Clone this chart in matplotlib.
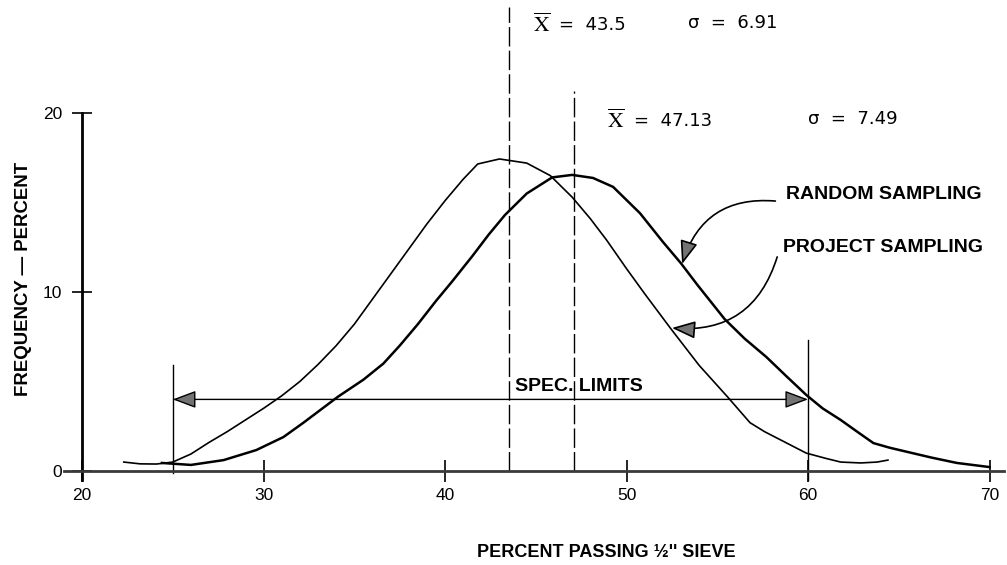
import numpy as np
import matplotlib
matplotlib.use("Agg")
import matplotlib.pyplot as plt
from matplotlib.patches import FancyArrowPatch

plt.rcParams["font.family"] = ["Liberation Sans", "DejaVu Sans"]
plt.rcParams["mathtext.fontset"] = "stix"

# curves (percent passing, frequency %)
proj_x = [22.3, 23.2, 24.1, 25.0, 26.0, 27.0, 28.0, 29.0, 30.0, 31.0, 32.0, 33.0,
          34.0, 35.0, 36.0, 37.0, 38.0, 39.0, 40.0, 41.0, 41.8, 43.0, 44.5, 45.8,
          47.0, 48.0, 48.9, 50.0, 51.0, 52.4, 54.0, 55.6, 56.8, 57.6, 58.5, 59.9,
          61.0, 61.8, 62.9, 63.8, 64.4]
proj_y = [0.50, 0.40, 0.39, 0.50, 0.95, 1.6, 2.2, 2.85, 3.5, 4.2, 5.0, 5.95,
          7.0, 8.2, 9.6, 11.0, 12.4, 13.8, 15.1, 16.3, 17.15, 17.43, 17.2, 16.5,
          15.3, 14.1, 12.9, 11.3, 9.9, 8.0, 5.9, 4.1, 2.7, 2.2, 1.73, 1.0,
          0.7, 0.5, 0.45, 0.5, 0.61]

rand_x = [24.4, 26.0, 27.8, 29.6, 31.1, 32.2, 34.1, 35.5, 36.6, 37.5, 38.5, 39.5,
          40.4, 41.5, 42.4, 43.3, 44.5, 45.9, 47.0, 48.15, 49.26, 50.74, 52.0, 53.0,
          53.9, 55.4, 56.5, 57.7, 58.8, 59.9, 60.8, 61.8, 62.7, 63.6, 64.5, 65.5,
          66.8, 68.2, 70.0]
rand_y = [0.45, 0.34, 0.61, 1.17, 1.9, 2.7, 4.15, 5.1, 6.0, 7.0, 8.2, 9.5,
          10.6, 12.0, 13.2, 14.3, 15.5, 16.4, 16.54, 16.37, 15.87, 14.4, 12.8, 11.6,
          10.4, 8.49, 7.4, 6.37, 5.3, 4.25, 3.5, 2.85, 2.2, 1.56, 1.3, 1.06,
          0.75, 0.45, 0.22]

means = [43.5, 47.13]
sigmas = [6.91, 7.49]
mean_tops = [25.9, 21.2]
spec_limits = [25, 60]
spec_tops = [5.9, 7.3]
spec_arrow_y = 4.0

x_ticks = [20, 30, 40, 50, 60, 70]
y_ticks = [0, 10, 20]

fig = plt.figure(figsize=(10.07, 5.65), dpi=100)
ax = fig.add_axes([0, 0, 1, 1])
ax.set_xlim(15.48, 70.96)
ax.set_ylim(-5.25, 26.31)

# axes drawn as spines through the origin
for s in ["top", "right"]:
    ax.spines[s].set_visible(False)
ax.spines["left"].set_position(("data", 20))
ax.spines["left"].set_bounds(-0.5, 20)
ax.spines["left"].set_linewidth(2.0)
ax.spines["bottom"].set_position(("data", 0))
ax.spines["bottom"].set_bounds(19.0, 70.8)
ax.spines["bottom"].set_linewidth(2.0)
ax.spines["bottom"].set_color("#3a3a3a")

ax.set_xticks(x_ticks)
ax.set_xticklabels([str(v) for v in x_ticks])
ax.set_yticks(y_ticks)
ax.set_yticklabels([str(v) for v in y_ticks])
ax.tick_params(axis="x", direction="inout", length=16, width=1.2, pad=4, labelsize=12.5)
ax.tick_params(axis="y", direction="inout", length=15, width=1.2, pad=7, labelsize=12.5)

# the two distributions
ax.plot(proj_x, proj_y, color="black", lw=1.2, solid_joinstyle="round")
ax.plot(rand_x, rand_y, color="black", lw=1.8, solid_joinstyle="round")

# mean lines
for m, top in zip(means, mean_tops):
    ax.plot([m, m], [0, top], color="black", lw=1.0, linestyle=(0, (14, 3)))

# mean / sigma notes: serif X-bar, then the numbers
xbar = r"$\overline{\mathrm{X}}$"
note = dict(fontsize=13, va="center", family="DejaVu Sans")
ax.text(44.85, 24.9, xbar, fontsize=15.5, va="center")
ax.text(46.3, 24.9, "=  %.1f" % means[0], **note)
ax.text(53.4, 25.0, "σ  =  %.2f" % sigmas[0], **note)
ax.text(48.9, 19.55, xbar, fontsize=15.5, va="center")
ax.text(50.4, 19.55, "=  %.2f" % means[1], **note)
ax.text(60.0, 19.65, "σ  =  %.2f" % sigmas[1], **note)

# spec limits
ax.plot([spec_limits[0]] * 2, [-0.1, spec_tops[0]], color="black", lw=1.0)
ax.plot([spec_limits[1]] * 2, [-0.5, spec_tops[1]], color="black", lw=1.0)
ax.add_patch(FancyArrowPatch((spec_limits[0], spec_arrow_y), (spec_limits[1], spec_arrow_y),
                             arrowstyle="<|-|>,head_length=0.8,head_width=0.3",
                             mutation_scale=18, fc="0.45", ec="black", lw=1.0,
                             shrinkA=0, shrinkB=0))
ax.text(43.86, 4.72, "SPEC. LIMITS", fontsize=14, fontweight="bold", va="center")

# labels with curved pointers
ax.text(58.8, 15.42, "RANDOM SAMPLING", fontsize=14, fontweight="bold", va="center")
ax.text(58.6, 12.46, "PROJECT SAMPLING", fontsize=14, fontweight="bold", va="center")
ax.annotate("", xy=(53.06, 11.56), xytext=(58.2, 15.08),
            arrowprops=dict(arrowstyle="-|>,head_length=0.8,head_width=0.3",
                            connectionstyle="arc3,rad=0.4", mutation_scale=18,
                            fc="0.45", ec="black", lw=1.2, shrinkA=0, shrinkB=0))
ax.annotate("", xy=(52.5, 7.99), xytext=(58.3, 11.96),
            arrowprops=dict(arrowstyle="-|>,head_length=0.8,head_width=0.3",
                            connectionstyle="arc3,rad=-0.4", mutation_scale=18,
                            fc="0.45", ec="black", lw=1.2, shrinkA=0, shrinkB=0))

ax.text(48.87, -4.53, "PERCENT PASSING ½'' SIEVE", fontsize=13, fontweight="bold",
        ha="center", va="center")
ax.text(16.75, 10.73, "FREQUENCY — PERCENT", fontsize=13.4, fontweight="bold",
        rotation=90, ha="center", va="center")

fig.savefig("out.png", dpi=100)
